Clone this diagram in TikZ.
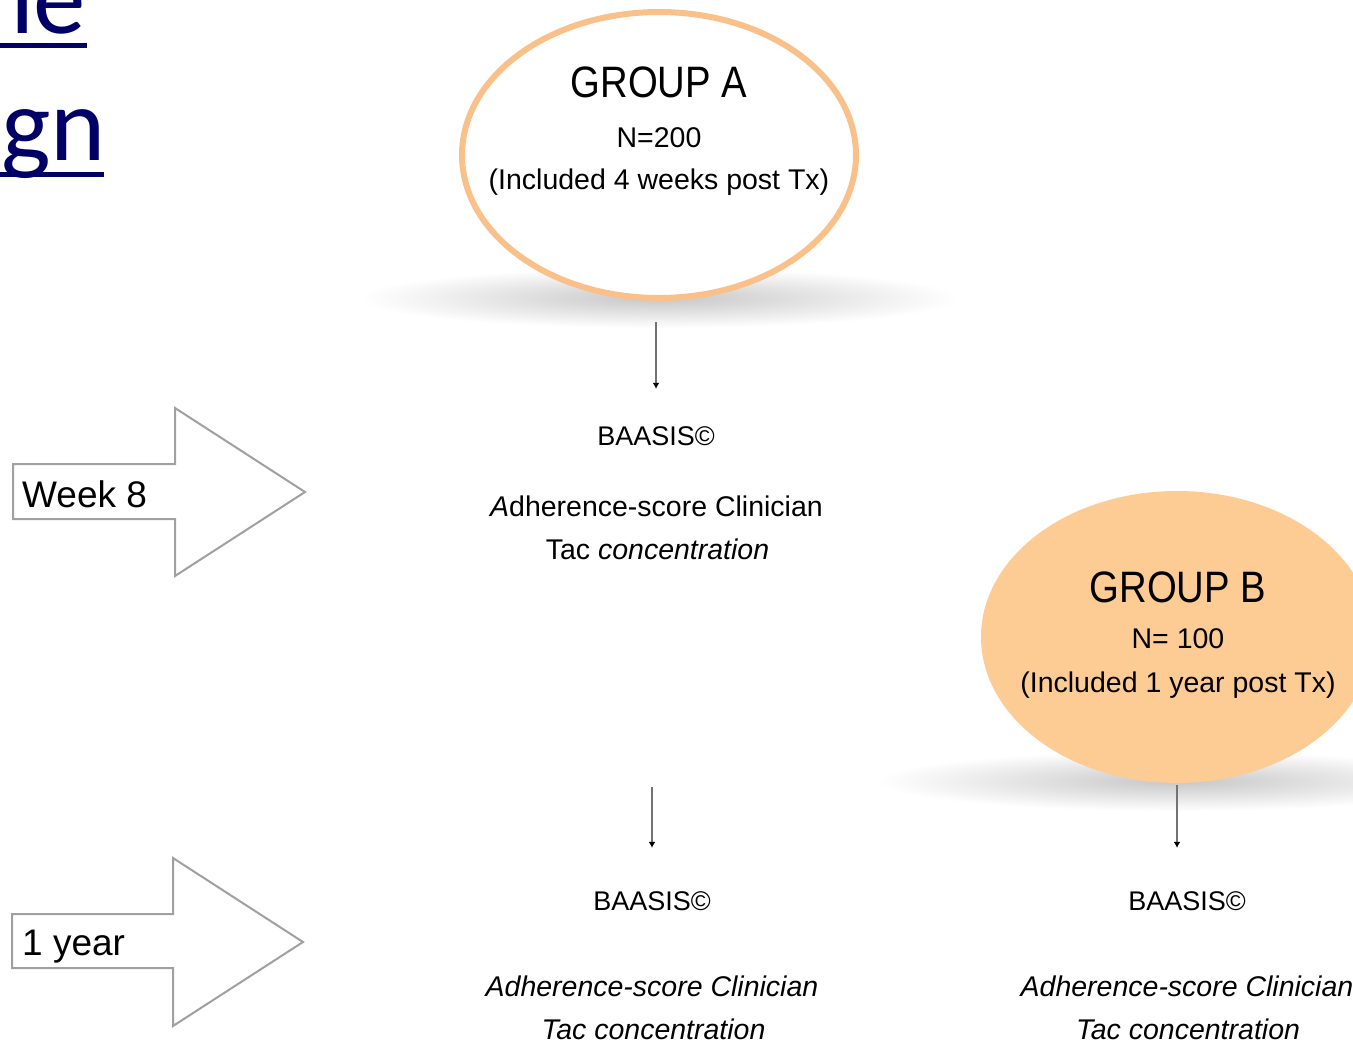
\documentclass[tikz,border=0pt]{standalone}
\usepackage{fontspec}
\setmainfont{Liberation Sans}
\newfontfamily\grpfont[FakeStretch=0.87]{Liberation Sans}
\newfontfamily\titlefont{Carlito}
\usetikzlibrary{shapes.geometric,arrows.meta}
\definecolor{ringorange}{RGB}{249,192,138}
\definecolor{fillorange}{RGB}{253,203,148}
\definecolor{titlenavy}{RGB}{0,0,102}
\definecolor{arrowgray}{RGB}{160,160,160}
\begin{document}
\begin{tikzpicture}[x=1pt,y=-1pt,
  grp/.style={inner sep=0pt, anchor=base, font=\grpfont\fontsize{44}{50}\selectfont},
  sub/.style={inner sep=0pt, anchor=base, font=\fontsize{28.5}{34}\selectfont},
  baas/.style={inner sep=0pt, anchor=base, text height=19pt, text depth=0pt, font=\fontsize{27}{31}\selectfont},
  body/.style={inner sep=0pt, anchor=base, font=\fontsize{28.5}{34}\selectfont},
  lbl/.style={inner sep=0pt, anchor=base west, font=\fontsize{37}{44}\selectfont},
  ttl/.style={inner sep=0pt, anchor=base east, text=titlenavy, font=\titlefont\fontsize{105}{120}\selectfont},
  conn/.style={draw=black!55, line width=1.5pt, -{Latex[length=6pt,width=7pt,color=black]}},
  blockarrow/.style={draw=arrowgray, line width=2pt, fill=white, line join=miter},
  shadowblur/.style={inner color=black!22, outer color=white}
]
\useasboundingbox (0,0) rectangle (1353,1045);
\clip (0,0) rectangle (1353,1045);

% title fragments
\node[ttl] (t1) at (86,33) {ne};
\node[ttl] (t2) at (106,160) {gn};
\fill[titlenavy] (0,43) rectangle (87,48);
\fill[titlenavy] (0,172) rectangle (104,177);

% shadows
\shade[shadowblur] (659,298) ellipse (300 and 30);
\shade[shadowblur] (1177,781) ellipse (300 and 30);

% Group A
\node[ellipse, draw=ringorange, line width=6pt, fill=white, minimum width=394pt, minimum height=286pt, inner sep=0pt] (gA) at (659,155) {};
\node[grp] (gAt) at (659,97) {GROUP A};
\node[sub] (gAn) at (659,147) {N=200};
\node[sub] (gAi) at (659,189) {(Included 4 weeks post Tx)};

% Group B
\node[ellipse, fill=fillorange, minimum width=392pt, minimum height=292pt, inner sep=0pt] (gB) at (1177,637) {};
\node[grp] (gBt) at (1178,602) {GROUP B};
\node[sub] (gBn) at (1178,648) {N= 100};
\node[sub] (gBi) at (1178,692) {(Included 1 year post Tx)};

% block arrows
\draw[blockarrow] (13,464) -- (175,464) -- (175,408) -- (305,492) -- (175,576) -- (175,519) -- (13,519) -- cycle;
\node[lbl] (w8) at (22,507) {Week 8};
\draw[blockarrow] (12,914) -- (173,914) -- (173,858) -- (303,942) -- (173,1026) -- (173,968) -- (12,968) -- cycle;
\node[lbl] (y1) at (22,955) {1 year};

% week 8 block
\node[baas] (b1) at (656,445) {BAASIS©};
\node[body] (a1) at (656.5,516) {{\itshape A}dherence-score Clinician};
\node[body] (c1) at (657.5,559) {Tac {\itshape concentration}};

% 1 year, group A
\node[baas] (b2) at (652,910) {BAASIS©};
\node[body] (a2) at (652,996) {\itshape Adherence-score Clinician};
\node[body] (c2) at (653.5,1039) {\itshape Tac concentration};

% 1 year, group B
\node[baas] (b3) at (1187,910) {BAASIS©};
\node[body] (a3) at (1187,996) {\itshape Adherence-score Clinician};
\node[body] (c3) at (1188,1039) {\itshape Tac concentration};

% connectors
\draw[conn, shorten <=21pt, shorten >=37pt] (b1.north |- gA.south) -- (b1.north);
\coordinate (s2) at (652,787);
\draw[conn, shorten >=43pt] (s2) -- (b2.north);
\draw[conn, shorten <=2pt, shorten >=43pt] (gB.south) -- (gB.south |- b3.north);
\end{tikzpicture}
\end{document}
